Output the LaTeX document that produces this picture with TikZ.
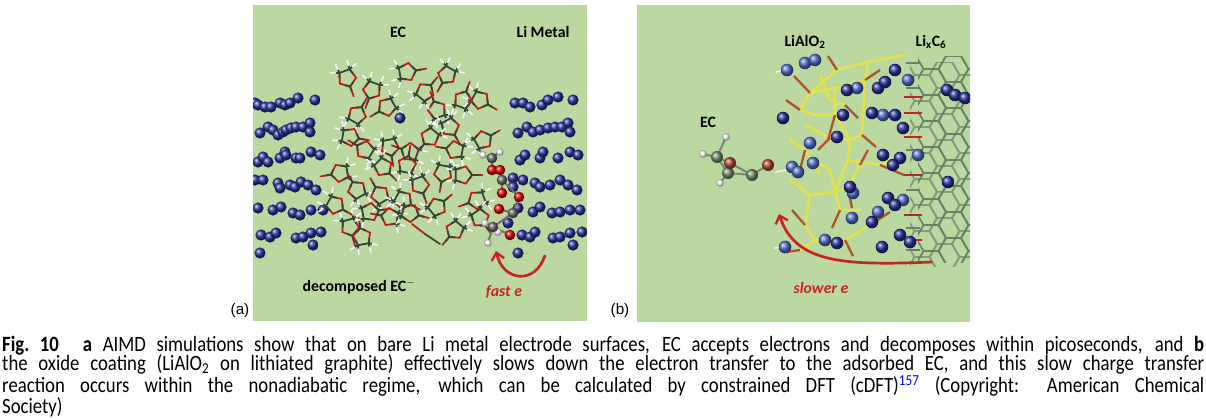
\documentclass[tikz,border=0pt]{standalone}
\usepackage{fontspec}
\setmainfont{Carlito}
\newfontfamily\arialfont{Liberation Sans}
\newfontfamily\capfont{Carlito}[FakeStretch=0.86]
\usetikzlibrary{arrows.meta}

\definecolor{panelgreen}{RGB}{187,216,160}
\definecolor{lidark}{RGB}{40,45,150}
\definecolor{lilight}{RGB}{80,110,200}
\definecolor{carbon}{RGB}{50,70,50}
\definecolor{oxygen}{RGB}{185,30,30}
\definecolor{arrowred}{RGB}{200,35,35}
\definecolor{alyellow}{RGB}{228,228,70}
\definecolor{brownstub}{RGB}{175,85,45}
\definecolor{graphite}{RGB}{105,130,105}
\definecolor{ecgray}{RGB}{120,140,110}
\definecolor{ecred}{RGB}{180,70,50}

\tikzset{
  li/.style={ball color=lidark, yscale=-1},
  lib/.style={ball color=lilight, yscale=-1},
  cball/.style={ball color=black!60, yscale=-1},
  oball/.style={ball color=red!85!black, yscale=-1},
  hball/.style={ball color=white, yscale=-1},
  gball/.style={ball color=ecgray, yscale=-1},
  rball/.style={ball color=ecred, yscale=-1},
  cbond/.style={draw=carbon, line width=1.5pt, line cap=round},
  obond/.style={draw=oxygen, line width=1.5pt, line cap=round},
  hbond/.style={draw=white!92!gray, line width=1.4pt, line cap=round},
  alo/.style={draw=alyellow, line width=2pt, line join=round},
  stub/.style={draw=brownstub, line width=2pt},
  graph/.style={draw=graphite, line width=1.5pt},
  lbl/.style={font=\bfseries\fontsize{13.5}{15}\selectfont, inner sep=0pt},
  elbl/.style={font=\bfseries\itshape\fontsize{13.5}{15}\selectfont, text=arrowred, inner sep=0pt},
  tag/.style={font=\arialfont\fontsize{13}{15}\selectfont, inner sep=0pt},
  eflow/.style={draw=arrowred, line width=2.3pt, -{Straight Barb[length=6pt,width=11pt,line width=2pt]}},
  hexcell/.pic={
    \draw[graph] (0:15) -- (60:15) -- (120:15) -- (180:15) -- (240:15) -- (300:15) -- cycle;
  },
  ec/.pic={
    \draw[obond] (90:7) -- (162:7) -- (234:7) (306:7) -- (18:7) -- (90:7) -- (90:15);
    \draw[cbond] (126:5.7) -- (90:7) -- (54:5.7) (90:7) -- (90:11)
      (198:5.7) -- (234:7) -- (306:7) -- (342:5.7)
      (234:7) -- +(200:3) (234:7) -- +(265:3) (306:7) -- +(275:3) (306:7) -- +(340:3);
    \draw[hbond] (234:7) ++(200:3) -- ++(200:4) (234:7) ++(265:3) -- ++(265:4)
      (306:7) ++(275:3) -- ++(275:4) (306:7) ++(340:3) -- ++(340:4);
  }
}

\begin{document}
\begin{tikzpicture}[x=0.03cm,y=-0.03cm]
\useasboundingbox (0,0) rectangle (1206,418);

% panel (a)
\fill[panelgreen] (253,5) rectangle (587,321);
\begin{scope}
  \clip (253,5) rectangle (587,321);
  \foreach \x/\y in {255/103,258/105,265/107,271/107,280/103,285/105,290/103,298/98,315/100,
      260/133,268/127,273/130,278/135,283/132,286/130,291/128,296/127,303/127,310/123,310/132,
      258/162,263/157,268/162,280/158,285/152,286/155,296/158,300/158,311/152,320/155,
      255/180,263/180,278/183,280/188,290/185,295/187,301/182,308/185,316/190,
      258/208,273/210,281/207,293/213,300/215,311/210,323/210,
      261/235,270/237,276/233,296/238,303/237,311/233,321/232,313/245,260/253}
    \shade[shift={(\x,\y)}, li] (0,0) circle (5.6);
  \foreach \x/\y in {515/103,523/103,530/107,542/105,548/100,558/97,573/100,
      518/133,527/127,533/132,540/130,548/128,555/127,562/127,568/123,570/132,
      520/160,525/155,540/158,543/152,558/158,570/152,578/155,
      513/178,523/180,535/183,540/187,550/185,560/180,568/185,577/190,
      513/187,518/208,533/212,540/207,552/213,560/212,570/210,580/210,
      508/223,522/235,530/237,535/232,553/238,560/237,570/233,582/232,573/245,518/253}
    \shade[shift={(\x,\y)}, li] (0,0) circle (5.6);
  \foreach \x/\y/\a in {347/78/20,407/72/100,447/75/-30,480/100/60,357/115/150,387/107/-60,
      437/110/200,450/127/30,350/137/80,365/150/-120,390/147/10,410/152/250,430/137/-40,
      483/140/120,340/173/-80,383/167/45,407/165/170,443/173/-10,463/175/90,357/190/210,
      380/195/-150,403/200/60,437/207/130,477/200/-70,350/227/15,362/237/190,390/217/-100,
      410/213/75,480/218/35,463/100/160,372/90/-20,425/92/140,455/150/-100,420/185/20,
      370/212/100,455/230/-40,335/205/60}
    \pic[rotate=\a, scale=1.3] at (\x,\y) {ec};
  \draw[obond] (412,224) -- (425,234);
  \draw[cbond] (425,234) -- (440,244);
  \shade[shift={(400,118)}, li] (0,0) circle (5.6);
  % decomposed EC
  \draw[draw=black!55, line width=1.8pt] (492,158) -- (492,170) (500,170) -- (502,180) -- (502,193)
    (502,180) -- (519,197) -- (513,213) -- (499,209) (513,213) -- (493,227) -- (510,235)
    (493,227) -- (485,223) (493,227) -- (498,232) (493,227) -- (488,243)
    (492,158) -- (500,152) (492,158) -- (483,155);
  \foreach \x/\y in {500/152,483/155,485/223,498/232,488/243}
    \shade[shift={(\x,\y)}, hball] (0,0) circle (3.8);
  \foreach \x/\y in {492/158,502/180,513/213,493/227}
    \shade[shift={(\x,\y)}, cball] (0,0) circle (5.3);
  \foreach \x/\y in {492/170,500/170,502/193,519/197,499/209,510/235}
    \shade[shift={(\x,\y)}, oball] (0,0) circle (5.3);
\end{scope}

\node[lbl] (ecA) at (398,32) {EC};
\node[lbl] (limetal) at (543,32) {Li Metal};
\node[lbl] (decomp) at (359,287) {decomposed EC$^{-}$};
\node[elbl] (fasta) at (504,292) {fast e};
\node[tag] (taga) at (240,311) {(a)};
\coordinate (fastStart) at (545,255);
\coordinate (fastEnd) at (496,251);
\draw[eflow] (fastStart) .. controls (536,285) and (503,282) .. (fastEnd);

% panel (b)
\fill[panelgreen] (637,5) rectangle (970,322);
\begin{scope}
  \clip (637,5) rectangle (970,322);
  \begin{scope}[graph/.append style={draw=graphite!70!panelgreen}]
    \clip (910,62) rectangle (970,266);
    \foreach \i in {0,2,4}
      \foreach \j in {-1,...,9}
        \pic at (922+\i*22.5,62+\j*26) {hexcell};
    \foreach \i in {1,3}
      \foreach \j in {-1,...,9}
        \pic at (922+\i*22.5,75+\j*26) {hexcell};
  \end{scope}
  \begin{scope}
    \clip (918,56) rectangle (970,262);
    \foreach \i in {0,2,4}
      \foreach \j in {-1,...,9}
        \pic at (931+\i*22.5,56+\j*26) {hexcell};
    \foreach \i in {1,3}
      \foreach \j in {-1,...,9}
        \pic at (931+\i*22.5,69+\j*26) {hexcell};
  \end{scope}
  \foreach \y in {63,88,150,190,228,250}
    \draw[graph] (906,\y) -- (920,\y);
  \foreach \y in {97,113,137,175,215,240}
    \draw[stub, draw=oxygen!80!brownstub] (904,\y) -- (922,\y);
  % LiAlO2 layer
  \draw[alo] (810,93) -- (837,70) -- (868,62) -- (905,55);
  \draw[alo] (800,110) -- (810,93) -- (835,88) -- (865,80) -- (868,62);
  \draw[alo] (835,88) -- (835,115) -- (815,115) -- (800,110);
  \draw[alo] (835,115) -- (850,140) -- (862,135) -- (865,80);
  \draw[alo] (805,125) -- (830,138) -- (850,140) -- (848,160) -- (880,165) -- (890,160);
  \draw[alo] (848,160) -- (835,192) -- (810,195) -- (805,225) -- (815,240) -- (845,240) -- (870,225);
  \draw[alo] (835,192) -- (848,188) -- (860,165);
  \draw[alo] (810,195) -- (790,180);
  \draw[alo] (815,240) -- (800,250);
  \draw[alo] (820,75) -- (830,100) -- (845,105) (815,160) -- (830,170) -- (840,210) -- (860,210)
    (790,140) -- (805,150) -- (820,175);
  \draw[stub] (837,70) -- (828,56) (800,110) -- (786,100) (810,93) -- (794,76) (862,135) -- (876,147)
    (880,165) -- (904,175) (848,188) -- (852,208) (870,225) -- (890,212) (845,240) -- (853,256)
    (835,115) -- (828,140) (865,80) -- (880,70) (805,225) -- (792,210) (800,250) -- (786,252)
    (860,165) -- (868,150) (830,138) -- (818,150) (845,105) -- (858,118) (840,210) -- (832,228)
    (805,150) -- (800,170);
  \draw[hbond] (776,72) -- (786,69) (778,118) -- (788,116) (776,172) -- (786,170)
    (775,248) -- (787,246) (803,58) -- (812,60);
  \foreach \x/\y in {787/70,805/63,815/60,857/88,883/115,810/143,792/167,798/172,813/163,
      853/193,903/200,852/218,825/240,878/212,918/155,908/80,785/247}
    \shade[shift={(\x,\y)}, lib] (0,0) circle (6.3);
  \foreach \x/\y in {847/90,878/88,885/82,895/70,783/118,843/115,872/113,895/115,903/128,
      837/137,883/155,900/158,893/165,850/187,888/198,895/205,872/222,900/235,910/242,
      837/243,882/247,947/90,955/95,965/98,948/182}
    \shade[shift={(\x,\y)}, li] (0,0) circle (6.3);
  % EC near the coating
  \draw[draw=ecgray, line width=1.8pt] (703,154) -- (717,157) -- (726,137) (717,157) -- (730,163)
    -- (752,175) -- (768,165) (717,157) -- (728,173) -- (752,175) (728,173) -- (720,183);
  \foreach \x/\y in {703/154,726/137,720/183}
    \shade[shift={(\x,\y)}, hball] (0,0) circle (3.8);
  \foreach \x/\y in {717/157,728/173,752/175}
    \shade[shift={(\x,\y)}, gball] (0,0) circle (6);
  \foreach \x/\y in {730/163,768/165}
    \shade[shift={(\x,\y)}, rball] (0,0) circle (6);
\end{scope}

\node[lbl] (ecB) at (708,122) {EC};
\node[lbl] (lialo) at (805,42) {LiAlO\textsubscript{2}};
\node[lbl] (lixc) at (931,42) {Li\textsubscript{x}C\textsubscript{6}};
\node[elbl] (slower) at (821,288) {slower e};
\node[tag] (tagb) at (620,311) {(b)};
\coordinate (slowStart) at (932,262);
\coordinate (slowEnd) at (779,214);
\draw[eflow] (slowStart) .. controls (840,266) and (795,262) .. (slowEnd);

% caption
\node[anchor=base west, inner sep=0pt, text width=36.06cm, align=justify,
  font=\capfont\fontsize{18.6}{16.8}\selectfont] (caption) at (2,351)
  {\textbf{Fig.\ 10}\hspace{1.1em}\textbf{a} AIMD simulations show that on bare Li metal electrode surfaces, EC accepts electrons and decomposes within picoseconds, and \textbf{b}\linebreak
  the oxide coating (LiAlO\textsubscript{2} on lithiated graphite) effectively slows down the electron transfer to the adsorbed EC, and this slow charge transfer\linebreak
  reaction occurs within the nonadiabatic regime, which can be calculated by constrained DFT (cDFT)\textsuperscript{\color{blue}157} (Copyright: American Chemical\linebreak
  Society)};
\end{tikzpicture}
\end{document}
